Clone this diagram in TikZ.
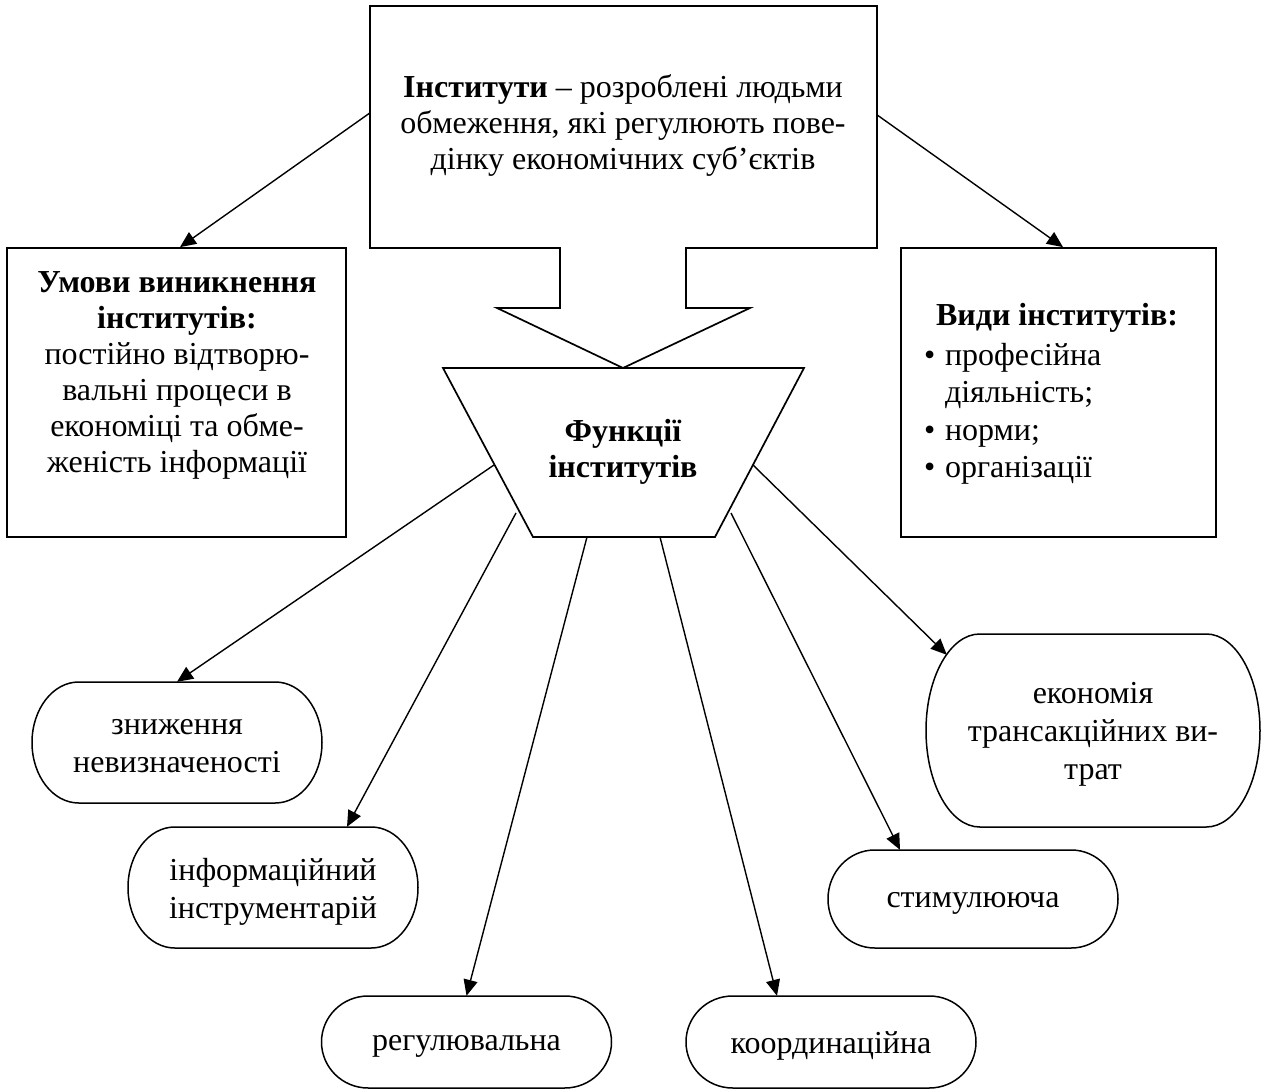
\documentclass[tikz,border=0pt]{standalone}
\usepackage{fontspec}
\setmainfont{Liberation Serif}
\usetikzlibrary{arrows.meta,calc}
\tikzset{
  frame/.style={draw, line width=1.7pt, inner sep=0pt},
  outline/.style={draw, line width=1.7pt, line join=miter},
  txt/.style={font=\fontsize{32}{36}\selectfont, align=center, inner sep=0pt},
  otxt/.style={font=\fontsize{32}{38}\selectfont, align=center, inner sep=0pt},
  termline/.style={draw, line width=1.5pt},
  conn/.style={line width=1.4pt, -{Triangle[length=16pt,width=14pt]}},
}
\newcommand\termin[6]{%
  \pgfmathsetmacro\TmL{#2-#4/2}%
  \pgfmathsetmacro\TmR{#2+#4/2}%
  \pgfmathsetmacro\TmT{#3-#5/2}%
  \pgfmathsetmacro\TmB{#3+#5/2}%
  \pgfmathsetmacro\TmRx{0.161*#4}%
  \pgfmathsetmacro\TmRy{#5/2}%
  \pgfmathsetmacro\TmA{\TmL+\TmRx}%
  \pgfmathsetmacro\TmBx{\TmR-\TmRx}%
  \pgfmathsetmacro\TmCl{\TmA-0.5523*\TmRx}%
  \pgfmathsetmacro\TmCr{\TmBx+0.5523*\TmRx}%
  \pgfmathsetmacro\TmCu{#3-0.5523*\TmRy}%
  \pgfmathsetmacro\TmCd{#3+0.5523*\TmRy}%
  \pgfmathsetmacro\TmTy{#3+4}%
  \draw[termline] (\TmA,\TmT) -- (\TmBx,\TmT)
    .. controls (\TmCr,\TmT) and (\TmR,\TmCu) .. (\TmR,#3)
    .. controls (\TmR,\TmCd) and (\TmCr,\TmB) .. (\TmBx,\TmB)
    -- (\TmA,\TmB)
    .. controls (\TmCl,\TmB) and (\TmL,\TmCd) .. (\TmL,#3)
    .. controls (\TmL,\TmCu) and (\TmCl,\TmT) .. cycle;
  \node[inner sep=0pt, minimum width=#4pt, minimum height=#5pt] (#1) at (#2,#3) {};
  \node[otxt] (#1t) at (#2,\TmTy) {#6};
}
\begin{document}
\begin{tikzpicture}[x=1pt,y=-1pt]
\fill[white] (0,0) rectangle (1264,1091);
\useasboundingbox (0,0) rectangle (1264,1091);

% top callout box with down arrow
\draw[outline] (370,6) -- (877,6) -- (877,248) -- (686,248) -- (686,308)
  -- (750,308) -- (623,368) -- (497,308) -- (560,308) -- (560,248)
  -- (370,248) -- cycle;
\node[inner sep=0pt, minimum width=507pt, minimum height=242pt] (topbox) at (623.5,127) {};
\node[txt] (toptext) at (623,126)
  {\textbf{Інститути} – розроблені людьми\\обмеження, які регулюють пове-\\дінку економічних суб’єктів};

% trapezoid
\coordinate (ftl) at (443,368);
\coordinate (ftr) at (804,368);
\coordinate (fbr) at (715,537);
\coordinate (fbl) at (533,537);
\draw[outline] (ftl) -- (ftr) -- (fbr) -- (fbl) -- cycle;
\node[txt] (fun) at (623,452) {\textbf{Функції}\\\textbf{інститутів}};

% left box
\node[frame, minimum width=339pt, minimum height=289pt] (lbox) at (176.5,392.5) {};
\node[txt] (ltext) at (177,375)
  {\textbf{Умови виникнення}\\\textbf{інститутів:}\\постійно відтворю-\\вальні процеси в\\економіці та обме-\\женість інформації};

% right box
\node[frame, minimum width=315pt, minimum height=289pt] (rbox) at (1058.5,392.5) {};
\node[txt] (rtitle) at (1057,318) {\textbf{Види інститутів:}};
\node[txt, font=\fontsize{32}{37.5}\selectfont, align=left, anchor=west] (rlist) at (924,414)
  {•\hspace{0.3em}професійна\\\hphantom{•\hspace{0.3em}}діяльність;\\•\hspace{0.3em}норми;\\•\hspace{0.3em}організації};

% terminator nodes
\termin{zn}{177}{742.5}{290}{121}{зниження\\невизначеності}
\termin{inf}{273}{887.5}{290}{121}{інформаційний\\інструментарій}
\termin{reg}{466.5}{1042}{290}{92}{регулювальна}
\termin{coord}{831}{1042}{290}{92}{координаційна}
\termin{stim}{973}{899}{290}{98}{стимулююча}
\termin{ekon}{1093}{730.5}{334}{193}{економія\\трансакційних ви-\\трат}

% connector start points on the trapezoid
\coordinate (s1) at (494,465);
\coordinate (s2) at (516,513);
\coordinate (s3) at (587,537);
\coordinate (s4) at (660,537);
\coordinate (s5) at (731,513);
\coordinate (s6) at (753,465);

\draw[conn] ([yshift=14pt]topbox.west) -- ([xshift=3.5pt]lbox.north);
\draw[conn] ([yshift=12pt]topbox.east) -- ([xshift=4.5pt]rbox.north);
\draw[conn] (s1) -- (zn.north);
\draw[conn] (s2) -- ([xshift=74pt]inf.north);
\draw[conn] (s3) -- (reg.north);
\draw[conn] (s4) -- ([xshift=-54pt]coord.north);
\draw[conn] (s5) -- ([xshift=-73pt]stim.north);
\draw[conn] (s6) -- ([xshift=21pt,yshift=-21pt]ekon.north west);
\end{tikzpicture}
\end{document}
